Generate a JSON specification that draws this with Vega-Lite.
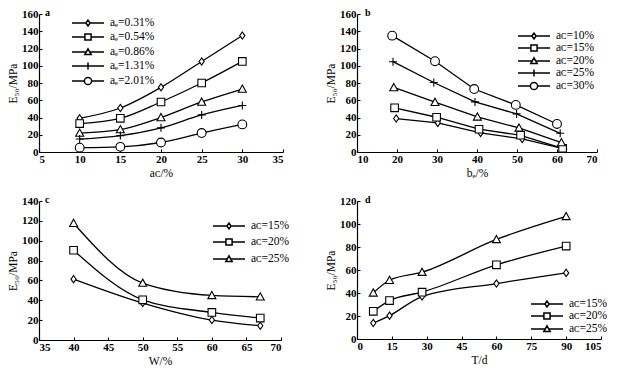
{
  "$schema": "https://vega.github.io/schema/vega-lite/v6.json",
  "background": "white",
  "padding": {"left": 7, "top": 8, "right": 5, "bottom": 5},
  "datasets": {
    "a": [
      {"x": 10, "y": 39, "s": "aₑ=0.31%"}, {"x": 15, "y": 51, "s": "aₑ=0.31%"}, {"x": 20, "y": 75, "s": "aₑ=0.31%"}, {"x": 25, "y": 105, "s": "aₑ=0.31%"}, {"x": 30, "y": 135, "s": "aₑ=0.31%"},
      {"x": 10, "y": 33, "s": "aₑ=0.54%"}, {"x": 15, "y": 39, "s": "aₑ=0.54%"}, {"x": 20, "y": 58, "s": "aₑ=0.54%"}, {"x": 25, "y": 80, "s": "aₑ=0.54%"}, {"x": 30, "y": 105, "s": "aₑ=0.54%"},
      {"x": 10, "y": 22, "s": "aₑ=0.86%"}, {"x": 15, "y": 26, "s": "aₑ=0.86%"}, {"x": 20, "y": 40, "s": "aₑ=0.86%"}, {"x": 25, "y": 58, "s": "aₑ=0.86%"}, {"x": 30, "y": 73, "s": "aₑ=0.86%"},
      {"x": 10, "y": 15, "s": "aₑ=1.31%"}, {"x": 15, "y": 19, "s": "aₑ=1.31%"}, {"x": 20, "y": 28, "s": "aₑ=1.31%"}, {"x": 25, "y": 43, "s": "aₑ=1.31%"}, {"x": 30, "y": 54, "s": "aₑ=1.31%"},
      {"x": 10, "y": 5, "s": "aₑ=2.01%"}, {"x": 15, "y": 6, "s": "aₑ=2.01%"}, {"x": 20, "y": 11, "s": "aₑ=2.01%"}, {"x": 25, "y": 22, "s": "aₑ=2.01%"}, {"x": 30, "y": 32, "s": "aₑ=2.01%"}
    ],
    "b": [
      {"x": 19.8, "y": 38.8, "s": "aᴄ=10%"}, {"x": 30.2, "y": 33.7, "s": "aᴄ=10%"}, {"x": 40.9, "y": 22.1, "s": "aᴄ=10%"}, {"x": 51.3, "y": 15.1, "s": "aᴄ=10%"}, {"x": 61.8, "y": 3.5, "s": "aᴄ=10%"},
      {"x": 19.4, "y": 51.2, "s": "aᴄ=15%"}, {"x": 29.9, "y": 40.3, "s": "aᴄ=15%"}, {"x": 40.5, "y": 26.4, "s": "aᴄ=15%"}, {"x": 50.9, "y": 19.4, "s": "aᴄ=15%"}, {"x": 61.4, "y": 4.3, "s": "aᴄ=15%"},
      {"x": 19.2, "y": 74.8, "s": "aᴄ=20%"}, {"x": 29.5, "y": 57.7, "s": "aᴄ=20%"}, {"x": 40.1, "y": 40.7, "s": "aᴄ=20%"}, {"x": 50.5, "y": 27.9, "s": "aᴄ=20%"}, {"x": 61.1, "y": 10.9, "s": "aᴄ=20%"},
      {"x": 19.0, "y": 104.7, "s": "aᴄ=25%"}, {"x": 29.2, "y": 80.6, "s": "aᴄ=25%"}, {"x": 39.5, "y": 58.1, "s": "aᴄ=25%"}, {"x": 49.9, "y": 44.2, "s": "aᴄ=25%"}, {"x": 60.8, "y": 21.7, "s": "aᴄ=25%"},
      {"x": 18.8, "y": 134.9, "s": "aᴄ=30%"}, {"x": 29.5, "y": 105.3, "s": "aᴄ=30%"}, {"x": 39.3, "y": 73, "s": "aᴄ=30%"}, {"x": 49.7, "y": 54.6, "s": "aᴄ=30%"}, {"x": 60.0, "y": 32.5, "s": "aᴄ=30%"}
    ],
    "c": [
      {"x": 40, "y": 61.3, "s": "aᴄ=15%"}, {"x": 50, "y": 37.2, "s": "aᴄ=15%"}, {"x": 60, "y": 20.1, "s": "aᴄ=15%"}, {"x": 67, "y": 14.4, "s": "aᴄ=15%"},
      {"x": 40, "y": 90.4, "s": "aᴄ=20%"}, {"x": 50, "y": 40.5, "s": "aᴄ=20%"}, {"x": 60, "y": 27.8, "s": "aᴄ=20%"}, {"x": 67, "y": 22.1, "s": "aᴄ=20%"},
      {"x": 40, "y": 117.6, "s": "aᴄ=25%"}, {"x": 50, "y": 57.3, "s": "aᴄ=25%"}, {"x": 60, "y": 44.9, "s": "aᴄ=25%"}, {"x": 67, "y": 43.5, "s": "aᴄ=25%"}
    ],
    "d": [
      {"x": 7, "y": 13.9, "s": "aᴄ=15%"}, {"x": 14, "y": 20.3, "s": "aᴄ=15%"}, {"x": 28, "y": 36.9, "s": "aᴄ=15%"}, {"x": 60, "y": 48.2, "s": "aᴄ=15%"}, {"x": 90, "y": 57.5, "s": "aᴄ=15%"},
      {"x": 7, "y": 24.1, "s": "aᴄ=20%"}, {"x": 14, "y": 33.4, "s": "aᴄ=20%"}, {"x": 28, "y": 40.7, "s": "aᴄ=20%"}, {"x": 60, "y": 64.5, "s": "aᴄ=20%"}, {"x": 90, "y": 80.8, "s": "aᴄ=20%"},
      {"x": 7, "y": 40.1, "s": "aᴄ=25%"}, {"x": 14, "y": 51.1, "s": "aᴄ=25%"}, {"x": 28, "y": 58.1, "s": "aᴄ=25%"}, {"x": 60, "y": 86.6, "s": "aᴄ=25%"}, {"x": 90, "y": 106.6, "s": "aᴄ=25%"}
    ]
  },
  "concat": [
    {
      "width": 244, "height": 138,
      "title": {"text": "a", "dx": 6, "dy": 14},
      "data": {"name": "a"},
      "resolve": {"scale": {"shape": "independent"}},
      "layer": [
        {"mark": {"type": "line", "interpolate": "monotone"},
         "encoding": {"x": {"field": "x", "type": "quantitative", "scale": {"domain": [5, 35], "nice": false}, "axis": {"values": [5, 10, 15, 20, 25, 30, 35], "tickCount": 20, "title": "aᴄ/%"}},
                      "y": {"field": "y", "type": "quantitative", "scale": {"domain": [0, 160], "nice": false}, "axis": {"values": [0, 20, 40, 60, 80, 100, 120, 140, 160], "tickCount": 20, "title": "E₅₀/MPa"}},
                      "detail": {"field": "s"}}},
        {"mark": {"type": "point", "filled": false, "color": "black", "fill": "white", "strokeWidth": 1.1, "size": 64, "opacity": 1},
         "encoding": {"x": {"field": "x", "type": "quantitative"}, "y": {"field": "y", "type": "quantitative"},
                      "shape": {"field": "s", "type": "nominal", "legend": null,
                                "scale": {"domain": ["aₑ=0.31%", "aₑ=0.54%", "aₑ=0.86%", "aₑ=1.31%", "aₑ=2.01%"],
                                          "range": ["M0,-0.9L0.65,0L0,0.9L-0.65,0Z", "M-0.95,-0.95H0.95V0.95H-0.95Z", "M0,-1L1,0.8H-1Z", "M-1,0H1M0,-1V1", "M1.1,0A1.1,1.1,0,1,1,-1.1,0A1.1,1.1,0,1,1,1.1,0Z"]}}}},
        {"transform": [{"filter": "false"}],
         "mark": {"type": "point", "filled": false, "color": "black", "fill": "white", "strokeWidth": 1.2, "opacity": 1},
         "encoding": {"x": {"field": "x", "type": "quantitative"}, "y": {"field": "y", "type": "quantitative"},
                      "shape": {"field": "s", "type": "nominal",
                                "scale": {"domain": ["aₑ=0.31%", "aₑ=0.54%", "aₑ=0.86%", "aₑ=1.31%", "aₑ=2.01%"],
                                          "range": ["M-1,0H1.78M2.62,0H5.4M2.2,-0.58L2.62,0L2.2,0.58L1.78,0Z", "M-1,0H1.58M2.82,0H5.4M1.58,-0.62H2.82V0.62H1.58Z", "M-1,0H1.847M2.553,0H5.4M2.2,-0.64L2.84,0.52H1.56Z", "M-1,0H5.4M2.2,-0.7V0.7", "M-1,0H1.48M2.92,0H5.4M2.92,0A0.72,0.72,0,1,1,1.48,0A0.72,0.72,0,1,1,2.92,0Z"]},
                                "legend": {"orient": "none", "legendX": 32, "legendY": 3, "rowPadding": 1}}}}
      ]
    },
    {
      "width": 240, "height": 138,
      "title": {"text": "b", "dx": 8, "dy": 14},
      "data": {"name": "b"},
      "resolve": {"scale": {"shape": "independent"}},
      "layer": [
        {"mark": {"type": "line"},
         "encoding": {"x": {"field": "x", "type": "quantitative", "scale": {"domain": [10, 70], "nice": false}, "axis": {"values": [10, 20, 30, 40, 50, 60, 70], "tickCount": 20, "title": "bₑ/%"}},
                      "y": {"field": "y", "type": "quantitative", "scale": {"domain": [0, 160], "nice": false}, "axis": {"values": [0, 20, 40, 60, 80, 100, 120, 140, 160], "tickCount": 20, "title": "E₅₀/MPa"}},
                      "detail": {"field": "s"}}},
        {"mark": {"type": "point", "filled": false, "color": "black", "fill": "white", "strokeWidth": 1.1, "size": 64, "opacity": 1},
         "encoding": {"x": {"field": "x", "type": "quantitative"}, "y": {"field": "y", "type": "quantitative"},
                      "shape": {"field": "s", "type": "nominal", "legend": null,
                                "scale": {"domain": ["aᴄ=10%", "aᴄ=15%", "aᴄ=20%", "aᴄ=25%", "aᴄ=30%"],
                                          "range": ["M0,-0.9L0.65,0L0,0.9L-0.65,0Z", "M-0.95,-0.95H0.95V0.95H-0.95Z", "M0,-1L1,0.8H-1Z", "M-1,0H1M0,-1V1", "M1.1,0A1.1,1.1,0,1,1,-1.1,0A1.1,1.1,0,1,1,1.1,0Z"]}}}},
        {"transform": [{"filter": "false"}],
         "mark": {"type": "point", "filled": false, "color": "black", "fill": "white", "strokeWidth": 1.2, "opacity": 1},
         "encoding": {"x": {"field": "x", "type": "quantitative"}, "y": {"field": "y", "type": "quantitative"},
                      "shape": {"field": "s", "type": "nominal",
                                "scale": {"domain": ["aᴄ=10%", "aᴄ=15%", "aᴄ=20%", "aᴄ=25%", "aᴄ=30%"],
                                          "range": ["M-1,0H1.78M2.62,0H5.4M2.2,-0.58L2.62,0L2.2,0.58L1.78,0Z", "M-1,0H1.58M2.82,0H5.4M1.58,-0.62H2.82V0.62H1.58Z", "M-1,0H1.847M2.553,0H5.4M2.2,-0.64L2.84,0.52H1.56Z", "M-1,0H5.4M2.2,-0.7V0.7", "M-1,0H1.48M2.92,0H5.4M2.92,0A0.72,0.72,0,1,1,1.48,0A0.72,0.72,0,1,1,2.92,0Z"]},
                                "legend": {"orient": "none", "legendX": 160, "legendY": 16, "rowPadding": -1.4}}}}
      ]
    },
    {
      "width": 242, "height": 139,
      "title": {"text": "c", "dx": 6, "dy": 14},
      "data": {"name": "c"},
      "resolve": {"scale": {"shape": "independent"}},
      "layer": [
        {"mark": {"type": "line", "interpolate": "monotone"},
         "encoding": {"x": {"field": "x", "type": "quantitative", "scale": {"domain": [35, 70], "nice": false}, "axis": {"values": [35, 40, 45, 50, 55, 60, 65, 70], "tickCount": 20, "title": "W/%"}},
                      "y": {"field": "y", "type": "quantitative", "scale": {"domain": [0, 140], "nice": false}, "axis": {"values": [0, 20, 40, 60, 80, 100, 120, 140], "tickCount": 20, "title": "E₅₀/MPa"}},
                      "detail": {"field": "s"}}},
        {"mark": {"type": "point", "filled": false, "color": "black", "fill": "white", "strokeWidth": 1.1, "size": 64, "opacity": 1},
         "encoding": {"x": {"field": "x", "type": "quantitative"}, "y": {"field": "y", "type": "quantitative"},
                      "shape": {"field": "s", "type": "nominal", "legend": null,
                                "scale": {"domain": ["aᴄ=15%", "aᴄ=20%", "aᴄ=25%"],
                                          "range": ["M0,-0.9L0.65,0L0,0.9L-0.65,0Z", "M-0.95,-0.95H0.95V0.95H-0.95Z", "M0,-1L1,0.8H-1Z"]}}}},
        {"transform": [{"filter": "false"}],
         "mark": {"type": "point", "filled": false, "color": "black", "fill": "white", "strokeWidth": 1.2, "opacity": 1},
         "encoding": {"x": {"field": "x", "type": "quantitative"}, "y": {"field": "y", "type": "quantitative"},
                      "shape": {"field": "s", "type": "nominal",
                                "scale": {"domain": ["aᴄ=15%", "aᴄ=20%", "aᴄ=25%"],
                                          "range": ["M-1,0H1.78M2.62,0H5.4M2.2,-0.58L2.62,0L2.2,0.58L1.78,0Z", "M-1,0H1.58M2.82,0H5.4M1.58,-0.62H2.82V0.62H1.58Z", "M-1,0H1.847M2.553,0H5.4M2.2,-0.64L2.84,0.52H1.56Z"]},
                                "legend": {"orient": "none", "legendX": 173, "legendY": 19, "rowPadding": 3}}}}
      ]
    },
    {
      "width": 244, "height": 138,
      "title": {"text": "d", "dx": 8, "dy": 14},
      "data": {"name": "d"},
      "resolve": {"scale": {"shape": "independent"}},
      "layer": [
        {"mark": {"type": "line", "interpolate": "monotone"},
         "encoding": {"x": {"field": "x", "type": "quantitative", "scale": {"domain": [0, 105], "nice": false}, "axis": {"values": [0, 15, 30, 45, 60, 75, 90, 105], "tickCount": 20, "title": "T/d"}},
                      "y": {"field": "y", "type": "quantitative", "scale": {"domain": [0, 120], "nice": false}, "axis": {"values": [0, 20, 40, 60, 80, 100, 120], "tickCount": 20, "title": "E₅₀/MPa"}},
                      "detail": {"field": "s"}}},
        {"mark": {"type": "point", "filled": false, "color": "black", "fill": "white", "strokeWidth": 1.1, "size": 64, "opacity": 1},
         "encoding": {"x": {"field": "x", "type": "quantitative"}, "y": {"field": "y", "type": "quantitative"},
                      "shape": {"field": "s", "type": "nominal", "legend": null,
                                "scale": {"domain": ["aᴄ=15%", "aᴄ=20%", "aᴄ=25%"],
                                          "range": ["M0,-0.9L0.65,0L0,0.9L-0.65,0Z", "M-0.95,-0.95H0.95V0.95H-0.95Z", "M0,-1L1,0.8H-1Z"]}}}},
        {"transform": [{"filter": "false"}],
         "mark": {"type": "point", "filled": false, "color": "black", "fill": "white", "strokeWidth": 1.2, "opacity": 1},
         "encoding": {"x": {"field": "x", "type": "quantitative"}, "y": {"field": "y", "type": "quantitative"},
                      "shape": {"field": "s", "type": "nominal",
                                "scale": {"domain": ["aᴄ=15%", "aᴄ=20%", "aᴄ=25%"],
                                          "range": ["M-1,0H1.78M2.62,0H5.4M2.2,-0.58L2.62,0L2.2,0.58L1.78,0Z", "M-1,0H1.58M2.82,0H5.4M1.58,-0.62H2.82V0.62H1.58Z", "M-1,0H1.847M2.553,0H5.4M2.2,-0.64L2.84,0.52H1.56Z"]},
                                "legend": {"orient": "none", "legendX": 173, "legendY": 97, "rowPadding": -3}}}}
      ]
    }
  ],
  "columns": 2,
  "spacing": {"row": 49, "column": 74},
  "bounds": "flush",
  "resolve": {"scale": {"shape": "independent"}, "legend": {"shape": "independent"}},
  "config": {
    "view": {"stroke": null},
    "font": "Liberation Serif",
    "title": {"anchor": "start", "frame": "group", "font": "Liberation Serif", "fontSize": 10, "fontWeight": "bold", "color": "black", "offset": 0, "baseline": "alphabetic"},
    "axis": {"grid": false, "labelOverlap": false, "domainColor": "black", "domainWidth": 1.2, "tickColor": "black", "tickWidth": 1.1, "tickSize": -3, "labelPadding": 4,
             "labelColor": "black", "labelFont": "Liberation Serif", "labelFontSize": 11, "labelFontWeight": "bold",
             "titleColor": "black", "titleFont": "Liberation Serif", "titleFontSize": 11.5, "titleFontWeight": "normal", "titlePadding": 3},
    "legend": {"labelFont": "Liberation Serif", "labelFontSize": 11.5, "labelColor": "black", "symbolSize": 100, "labelOffset": 27, "title": null},
    "line": {"color": "black", "strokeWidth": 1.3}
  }
}
